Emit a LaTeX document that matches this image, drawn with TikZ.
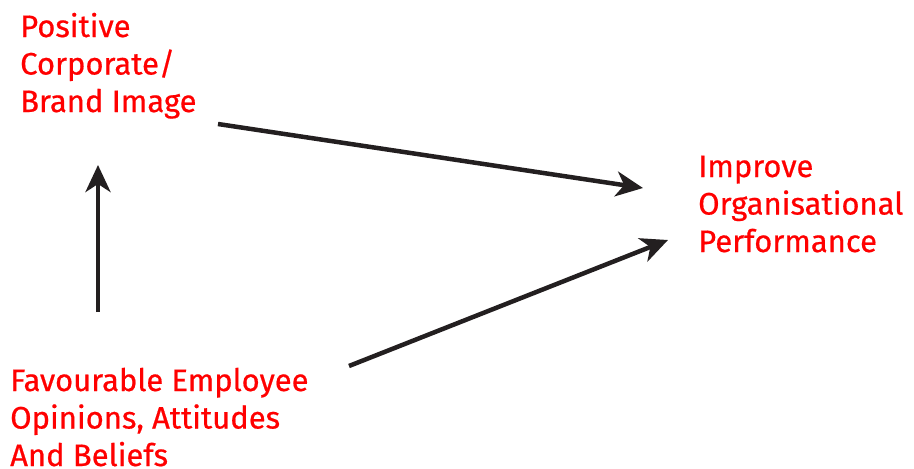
\documentclass[tikz,border=0pt]{standalone}
\usepackage{fontspec}
\newfontfamily\lblfont{Fira Sans}[FakeBold=0.6]
\usetikzlibrary{arrows.meta}
\begin{document}
\begin{tikzpicture}[x=1pt,y=-1pt,
  lbl/.style={anchor=base west,inner sep=0pt,align=left,text=red,
    font=\lblfont\fontsize{31}{37.5}\selectfont},
  arr/.style={line width=4.5pt,draw={rgb,255:red,35;green,31;blue,32},
    -{Stealth[length=27pt,width=25pt,inset=8pt]}}]
\useasboundingbox (0,0) rectangle (914,469);
\node[lbl] (brand) at (20,112) {Positive\\Corporate/\\Brand Image};
\node[lbl] (perf) at (698,252) {Improve\\Organisational\\Performance};
\node[lbl] (emp) at (10,466) {Favourable Employee\\Opinions, Attitudes\\And Beliefs};
\coordinate (b1) at (218,124);
\coordinate (p1) at (643,188);
\coordinate (e1) at (98,312);
\coordinate (b2) at (98,165);
\coordinate (e2) at (349,366);
\coordinate (p2) at (668,240);
\draw[arr] (b1) -- (p1);
\draw[arr] (e1) -- (b2);
\draw[arr] (e2) -- (p2);
\end{tikzpicture}
\end{document}
